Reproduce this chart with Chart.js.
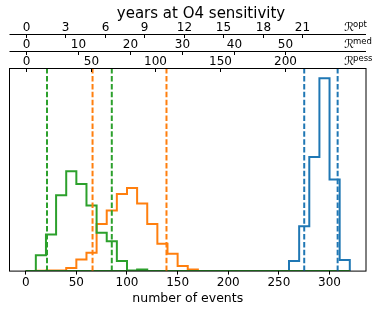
<!DOCTYPE html>
<html>
<head>
<meta charset="utf-8">
<script src="https://cdn.jsdelivr.net/npm/chart.js@4.4.1/dist/chart.umd.min.js"></script>
<style>
  body { margin: 0; background: #fff; }
  canvas { display: block; }
</style>
</head>
<body>
<canvas id="chart" width="373" height="312"></canvas>
<script>
// histogram bin edges (number of events)
const binEdges = [0, 10, 20, 30, 40, 50, 60, 70, 80, 90, 100, 110, 120, 130, 140, 150, 160,
                  170, 180, 190, 200, 210, 220, 230, 240, 250, 260, 270, 280, 290, 300, 310, 320];

// bin heights (same arbitrary density units for all three)
const greenCounts  = [0, 16, 36.7, 76, 100, 87.3, 65.7, 38.3, 30, 10, 0.5, 1.7, 0, 0, 0, 0,
                      0, 0, 0, 0, 0, 0, 0, 0, 0, 0, 0, 0, 0, 0, 0, 0];
const orangeCounts = [0, 0.3, 0.7, 0.7, 3, 11.7, 18.3, 47.3, 60.7, 77.3, 83.3, 67.7, 47.3, 27.3, 17.3, 5,
                      1.7, 0, 0, 0, 0, 0, 0, 0, 0, 0, 0, 0, 0, 0, 0, 0];
const blueCounts   = [0, 0, 0, 0, 0, 0, 0, 0, 0, 0, 0, 0, 0, 0, 0, 0,
                      0, 0, 0, 0, 0, 0, 0, 0, 0, 0, 10, 45, 114.3, 193.3, 91.7, 11];

// dashed interval markers
const greenLines  = [21, 85];
const orangeLines = [66, 139];
const blueLines   = [275, 308];

// bottom axis ticks
const xTicks = [0, 50, 100, 150, 200, 250, 300];

// top axes: years at O4 sensitivity, events per year for each rate
const optYears  = [0, 3, 6, 9, 12, 15, 18, 21];
const medYears  = [0, 10, 20, 30, 40, 50];
const pessYears = [0, 50, 100, 150, 200];
const rateOpt = 13.0;
const rateMed = 5.13;
const ratePess = 1.28;

const FONT = "'DejaVu Sans', sans-serif";
const BLUE = '#1f77b4', ORANGE = '#ff7f0e', GREEN = '#2ca02c';

const yMax = 1.05 * Math.max(...greenCounts, ...orangeCounts, ...blueCounts);

// outline of a step histogram, closed along the baseline like matplotlib's
function stepOutline(edges, counts) {
    const pts = [{ x: edges[0], y: 0 }];
    counts.forEach((c, i) => {
        pts.push({ x: edges[i], y: c });
        pts.push({ x: edges[i + 1], y: c });
    });
    pts.push({ x: edges[edges.length - 1], y: 0 });
    pts.push({ x: edges[0], y: 0 });
    return pts;
}

function histSet(counts, color, order) {
    return {
        data: stepOutline(binEdges, counts),
        showLine: true,
        borderColor: color,
        borderWidth: 2,
        pointRadius: 0,
        tension: 0,
        order: order
    };
}

function vlineSets(values, color) {
    return values.map(v => ({
        data: [{ x: v, y: 0 }, { x: v, y: yMax }],
        showLine: true,
        borderColor: color,
        borderWidth: 2,
        borderDash: [5.5, 2.4],
        pointRadius: 0,
        order: 0
    }));
}

// frame, top axes and title
const topAxes = {
    id: 'topAxes',
    afterDraw(chart) {
        const ctx = chart.ctx;
        const xs = chart.scales.x;
        const area = chart.chartArea;
        ctx.save();
        ctx.strokeStyle = '#000';
        ctx.lineWidth = 1;
        ctx.strokeRect(area.left, area.top, area.right - area.left, area.bottom - area.top);

        const rows = [
            { years: optYears, rate: rateOpt, y: 34.5, name: 'opt' },
            { years: medYears, rate: rateMed, y: 51.5, name: 'med' },
            { years: pessYears, rate: ratePess, y: area.top, name: 'pess' }
        ];
        ctx.fillStyle = '#000';
        rows.forEach(row => {
            ctx.beginPath();
            ctx.moveTo(area.left, row.y);
            ctx.lineTo(area.right, row.y);
            ctx.stroke();
            ctx.font = '12px ' + FONT;
            ctx.textAlign = 'center';
            ctx.textBaseline = 'alphabetic';
            row.years.forEach(yr => {
                const px = Math.round(xs.getPixelForValue(yr * row.rate)) + 0.5;
                ctx.beginPath();
                ctx.moveTo(px, row.y);
                ctx.lineTo(px, row.y + 3.5);
                ctx.stroke();
                ctx.fillText(String(yr), px, row.y - 3.5);
            });
            ctx.textAlign = 'left';
            ctx.font = '12px ' + FONT;
            ctx.fillText('\u211B', 344, row.y - 3.5);
            ctx.font = '8.5px ' + FONT;
            ctx.fillText(row.name, 353, row.y - 8);
        });

        ctx.font = '15px ' + FONT;
        ctx.textAlign = 'center';
        ctx.fillText('years at O4 sensitivity', 201, 17.5);
        ctx.restore();
    }
};

new Chart(document.getElementById('chart'), {
    type: 'scatter',
    data: {
        datasets: [
            ...vlineSets(greenLines, GREEN),
            ...vlineSets(orangeLines, ORANGE),
            ...vlineSets(blueLines, BLUE),
            histSet(greenCounts, GREEN, 1),
            histSet(orangeCounts, ORANGE, 2),
            histSet(blueCounts, BLUE, 3)
        ]
    },
    options: {
        responsive: false,
        devicePixelRatio: 1,
        animation: false,
        layout: { padding: { top: 68.5, left: 9.5, right: 7, bottom: 0 } },
        plugins: { legend: { display: false }, tooltip: { enabled: false } },
        scales: {
            x: {
                type: 'linear',
                min: -16,
                max: 336,
                afterBuildTicks: s => { s.ticks = xTicks.map(v => ({ value: v })); },
                ticks: { font: { family: FONT, size: 12 }, color: '#000', padding: 1, maxRotation: 0 },
                grid: { drawOnChartArea: false, tickLength: 3.5, color: '#000' },
                border: { display: false },
                title: {
                    display: true,
                    text: 'number of events',
                    color: '#000',
                    font: { family: FONT, size: 12.5 },
                    padding: { top: 0, bottom: 6 }
                }
            },
            y: { min: 0, max: yMax, display: false }
        }
    },
    plugins: [topAxes]
});
</script>
</body>
</html>
